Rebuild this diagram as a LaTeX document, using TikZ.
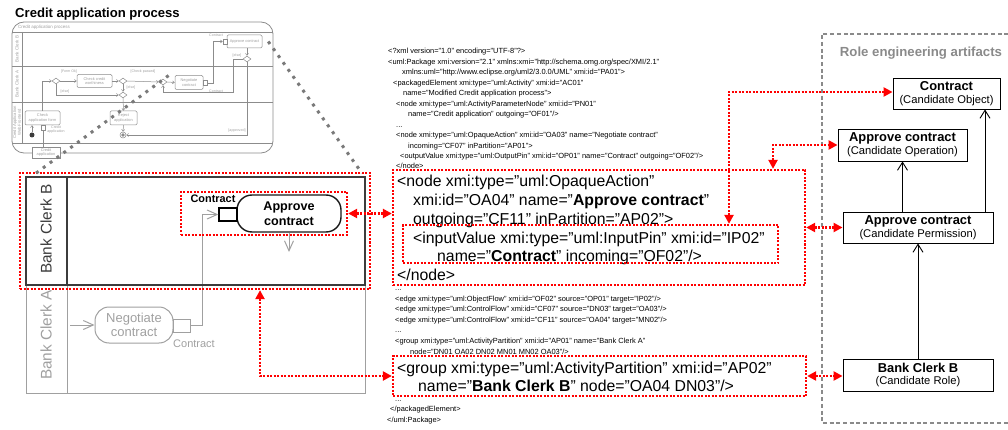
\documentclass[tikz,border=0pt]{standalone}
\usepackage{fontspec}
\setmainfont{Liberation Sans}
\usetikzlibrary{arrows.meta,fit,shapes.geometric,calc}
\definecolor{xred}{HTML}{FF0000}
\definecolor{lanegray}{HTML}{A0A0A0}
\definecolor{thumbline}{HTML}{8C8C8C}
\definecolor{thumbtext}{HTML}{A0A0A0}
\definecolor{dotgray}{HTML}{7A7A7A}
\definecolor{boxgray}{HTML}{8A8A8A}
\definecolor{darkline}{HTML}{3C3C3C}
\newcommand{\xfs}[2]{\fontsize{#1}{#2}\selectfont}
\begin{document}
\begin{tikzpicture}[x=1pt,y=-1pt,
  redbox/.style={draw=xred,line width=2.3pt,dash pattern=on 2pt off 1.5pt,inner sep=0pt},
  redarrow/.style={draw=xred,line width=2.3pt,dash pattern=on 2pt off 1.5pt,{Triangle[length=9pt,width=9pt]}-{Triangle[length=9pt,width=9pt]}},
  graydot/.style={draw=dotgray,line width=3pt,dash pattern=on 3pt off 5.5pt},
  grayarrow/.style={draw=lanegray,line width=1pt,-{Straight Barb[length=10pt,width=9pt]}},
  blackarrow/.style={draw=black,line width=0.9pt,-{Straight Barb[length=8pt,width=10pt]}},
  rbox/.style={draw=black,line width=0.9pt,fill=white,align=center,inner sep=0pt,font=\xfs{11.2}{12.6}},
  smallx/.style={anchor=base west,inner sep=0pt,font=\xfs{7.45}{9}},
  bigx/.style={anchor=base west,inner sep=0pt,font=\xfs{15.8}{18}},
  tbox/.style={draw=thumbline,line width=0.5pt,rounded corners=1.2pt,fill=white,inner sep=0pt,align=center,font=\xfs{3.9}{4.6},text=thumbtext},
  tdia/.style={draw=thumbline,line width=0.5pt,diamond,aspect=1.4,minimum width=8pt,minimum height=6pt,inner sep=0pt,fill=white},
  tpin/.style={draw=thumbline,line width=0.5pt,minimum width=4pt,minimum height=5pt,inner sep=0pt,fill=white},
  ttext/.style={inner sep=0pt,font=\xfs{3.6}{4.2},text=thumbtext,align=center},
  tarr/.style={draw=thumbline,line width=0.5pt,-{Straight Barb[length=2pt,width=3pt]}},
]
\useasboundingbox (0,0) rectangle (1008,430);

% ---------------- thumbnail ----------------
\node[anchor=base west,inner sep=0pt,font=\bfseries\xfs{13.1}{15}] (ttitle) at (15,17.5) {Credit application process};
\node[draw=thumbline,line width=0.8pt,rounded corners=12pt,fit={(12,22) (273,153)},inner sep=0pt] (thumb) {};
\node[ttext,anchor=west,font=\xfs{4.5}{5}] (tname) at (18,27) {Credit application process};
\draw[thumbline,line width=0.5pt] (12,32) -- (273,32) (12,66) -- (273,66) (12,102) -- (273,102) (12,143) -- (273,143) (22,32) -- (22,143);
\node[ttext,rotate=90,font=\xfs{4.5}{5}] (tlB) at (17,49) {Bank Clerk B};
\node[ttext,rotate=90,font=\xfs{4.5}{5}] (tlA) at (17,84) {Bank Clerk A};
\node[ttext,rotate=90,font=\xfs{4.2}{4.6}] (tlW) at (17,122.5) {Credit Application\\Web Frontend};

\node[tbox,minimum width=35pt,minimum height=13pt] (tappr) at (244.5,41.5) {Approve contract};
\node[tpin] (tpin1) at (225,41.5) {};
\node[ttext] (tlc1) at (216,35.5) {Contract};
\node[tdia] (tdB) at (247,59) {};
\node[ttext] (tle1) at (237,55.5) {[else]};
\node[tdia] (tdA1) at (56,81) {};
\node[ttext] (tlf) at (69,72) {[Form Ok]};
\node[tbox,minimum width=35pt,minimum height=13pt] (tcheck) at (94.5,81) {Check credit\\worthiness};
\node[tdia] (tdA2) at (123,81) {};
\node[ttext] (tlcp) at (143,72) {[Check passed]};
\node[ttext] (tle2) at (131,88) {[else]};
\node[tdia] (tdA3) at (163,82) {};
\node[tbox,minimum width=28pt,minimum height=14pt] (tneg) at (189,82.5) {Negotiate\\contract};
\node[tpin] (tpin2) at (205,83) {};
\node[ttext] (tlc2) at (216,91.5) {Contract};
\node[tdia] (tdA4) at (123,95) {};
\node[ttext] (tle3) at (65,92) {[else]};
\node[tbox,minimum width=35pt,minimum height=14pt] (tcaf) at (42.5,118) {Check\\application form};
\node[circle,fill=darkline,minimum size=5pt,inner sep=0pt] (tinit) at (32,135) {};
\node[tpin] (tpin3) at (43,127.5) {};
\node[ttext] (tlca) at (56,129.5) {Credit\\application};
\node[tbox,minimum width=27pt,minimum height=14pt] (trej) at (123.5,118) {Reject\\application};
\node[circle,draw=thumbline,line width=0.5pt,minimum size=6pt,inner sep=0pt] (tfinal) at (123,135) {};
\fill[thumbline] (tfinal) circle (1.8pt);
\node[ttext] (tlap) at (237,130.5) {[approved]};
\node[tbox,rounded corners=0pt,minimum width=28pt,minimum height=11pt] (tparam) at (46,152.5) {Credit\\application};

\draw[tarr] (tinit) -- (tinit |- tcaf.south);
\draw[thumbline,line width=0.5pt] (tparam.north -| tpin3) -- (tpin3.south);
\draw[tarr] (tcaf.north) |- (tdA1.west);
\draw[tarr] (tdA1.east) -- (tcheck.west);
\draw[tarr] (tdA1.south) |- (tdA4.west);
\draw[tarr] (tcheck.east) -- (tdA2.west);
\draw[tarr] (tdA2.east) -- (tdA3.west);
\draw[tarr] (tdA2.south) -- (tdA4.north);
\draw[tarr] (tdA4.south) -- (trej.north);
\draw[tarr] (trej.south) -- (tfinal.north);
\draw[tarr] (tdA3.east) -- (tneg.west);
\draw[tarr] (tpin2.east) -- ++(6,0) |- (tpin1.west);
\draw[tarr] (tdB.north |- tappr.south) -- (tdB.north);
\coordinate (tk) at (233,92);
\draw[tarr] (tdB.west) -| (tk) -| (tdA3.south);
\draw[tarr] (tdB.south) |- (tfinal.east);

% ---------------- Bank Clerk A (grey) ----------------
\node[draw=lanegray,line width=1pt,fit={(26,177) (365,393)},inner sep=0pt] (bca) {};
\draw[lanegray,line width=1pt] (67,177) -- (67,393);
\node[rotate=90,text=lanegray,font=\xfs{15.4}{17}] (lblA) at (46,335) {Bank Clerk A};
\node[draw=lanegray,line width=1pt,rounded corners=14pt,minimum width=78pt,minimum height=36pt,align=center,text=lanegray,font=\xfs{13}{14.5},inner sep=0pt] (neg) at (134,325) {Negotiate\\contract};
\node[draw=lanegray,line width=1pt,minimum width=17pt,minimum height=13pt,inner sep=0pt] (npin) at (181.5,325.5) {};
\node[text=lanegray,font=\xfs{11}{13},inner sep=0pt] (nlbl) at (194,343.5) {Contract};
\coordinate (nin) at (70,325);
\draw[grayarrow] (nin) -- (neg.west);

% ---------------- Bank Clerk B ----------------
\node[draw=black!90,line width=1.4pt,rounded corners=15pt,minimum width=104pt,minimum height=37pt,align=center,font=\bfseries\xfs{12.6}{15},inner sep=0pt] (appr) at (289,213.5) {Approve\\contract};
\node[draw=black,line width=1.4pt,minimum width=18pt,minimum height=13pt,inner sep=0pt,fill=white] (pin) at (228,214.5) {};
\node[font=\bfseries\xfs{10.9}{12},inner sep=0pt] (pinlbl) at (213,199) {Contract};
\draw[grayarrow] (npin.east) -- ++(12,0) |- (pin.west);
\coordinate (apdown) at (289,252);
\draw[grayarrow] (appr.south) -- (apdown);
\node[draw=darkline,line width=1.8pt,fit={(26,177) (365,285)},inner sep=0pt] (bcb) {};
\draw[darkline,line width=1.8pt] (67,177) -- (67,285);
\node[rotate=90,text=darkline,font=\xfs{15.4}{17}] (lblB) at (46,229) {Bank Clerk B};
\node[redbox,fit={(181,192) (347,235)}] (redin) {};
\node[redbox,fit={(20,173) (370,289)}] (redout) {};

% grey dotted zoom lines
\draw[graydot] ([xshift=6pt]tappr.east) -- ([xshift=-4pt,yshift=3pt]bcb.north east);
\draw[graydot] ([xshift=11pt,yshift=3pt]bcb.north west) -- ([xshift=9pt,yshift=9pt]tdA3.center);

% ---------------- XMI text ----------------
\node[smallx] (s1) at (388,54) {<?xml version="1.0" encoding="UTF-8"?>};
\node[smallx] (s2) at (388,64.45) {<uml:Package xmi:version="2.1" xmlns:xmi="http://schema.omg.org/spec/XMI/2.1"};
\node[smallx] (s3) at (402,74.9) {xmlns:uml="http://www.eclipse.org/uml2/3.0.0/UML" xmi:id="PA01">};
\node[smallx] (s4) at (393,85.35) {<packagedElement xmi:type="uml:Activity" xmi:id="AC01"};
\node[smallx] (s5) at (403,95.8) {name="Modified Credit application process">};
\node[smallx] (s6) at (396,106.25) {<node xmi:type="uml:ActivityParameterNode" xmi:id="PN01"};
\node[smallx] (s7) at (408,116.7) {name="Credit application" outgoing="OF01"/>};
\node[smallx] (s8) at (396,127.15) {...};
\node[smallx] (s9) at (396,137.6) {<node xmi:type="uml:OpaqueAction" xmi:id="OA03" name="Negotiate contract"};
\node[smallx] (s10) at (408,148.05) {incoming="CF07" inPartition="AP01">};
\node[smallx] (s11) at (400,158.5) {<outputValue xmi:type="uml:OutputPin" xmi:id="OP01" name="Contract" outgoing="OF02"/>};
\node[smallx] (s12) at (396,168.95) {</node>};

\node[bigx] (b1) at (397,187) {<node xmi:type="uml:OpaqueAction"};
\node[bigx] (b2) at (413,205.7) {xmi:id="OA04" name="\textbf{Approve contract}"};
\node[bigx] (b3) at (413,224.4) {outgoing="CF11" inPartition="AP02">};
\node[bigx] (b4) at (413,243.1) {<inputValue xmi:type="uml:InputPin" xmi:id="IP02"};
\node[bigx] (b5) at (437,261.8) {name="\textbf{Contract}" incoming="OF02"/>};
\node[bigx] (b6) at (397,280.5) {</node>};
\node[redbox,fit={(393,170) (805,285)}] (xnode) {};
\node[redbox,fit={(403,225) (778,263)}] (xin) {};

\node[smallx] (e1) at (395,290.5) {...};
\node[smallx] (e2) at (395,301.1) {<edge xmi:type="uml:ObjectFlow" xmi:id="OF02" source="OP01" target="IP02"/>};
\node[smallx] (e3) at (395,311.7) {<edge xmi:type="uml:ControlFlow" xmi:id="CF07" source="DN03" target="OA03"/>};
\node[smallx] (e4) at (395,322.3) {<edge xmi:type="uml:ControlFlow" xmi:id="CF11" source="OA04" target="MN02"/>};
\node[smallx] (e5) at (395,332.9) {...};
\node[smallx] (e6) at (395,343.5) {<group xmi:type="uml:ActivityPartition" xmi:id="AP01" name="Bank Clerk A"};
\node[smallx] (e7) at (410,354.1) {node="DN01 OA02 DN02 MN01 MN02 OA03"/>};

\node[bigx] (g1) at (397,373) {<group xmi:type="uml:ActivityPartition" xmi:id="AP02"};
\node[bigx] (g2) at (418,391.5) {name="\textbf{Bank Clerk B}" node="OA04 DN03"/>};
\node[redbox,fit={(393,356) (806,396)}] (xgroup) {};

\node[smallx] (f1) at (395,401.5) {...};
\node[smallx] (f2) at (390,411.8) {</packagedElement>};
\node[smallx] (f3) at (387,422.2) {</uml:Package>};

% ---------------- Role engineering artifacts ----------------
\draw[draw=boxgray,line width=1.5pt,dash pattern=on 4pt off 2.7pt] (1015,34) -- (822,34) -- (822,423) -- (1015,423);
\node[text=boxgray,font=\bfseries\xfs{13.2}{15}] (rtitle) at (921,53) {Role engineering artifacts};
\node[rbox,minimum width=107pt,minimum height=31pt] (rcontract) at (946.5,93.5) {{\bfseries\xfs{12.9}{12.6}Contract}\\(Candidate Object)};
\node[rbox,minimum width=129pt,minimum height=32pt] (roper) at (902.5,145) {{\bfseries\xfs{12.9}{12.6}Approve contract}\\(Candidate Operation)};
\node[rbox,minimum width=150pt,minimum height=31pt] (rperm) at (918,227.5) {{\bfseries\xfs{12.9}{12.6}Approve contract}\\(Candidate Permission)};
\node[rbox,minimum width=150pt,minimum height=32pt] (rrole) at (918,375) {{\bfseries\xfs{12.9}{12.6}Bank Clerk B}\\(Candidate Role)};

\draw[blackarrow] (rrole.north) -- (rperm.south);
\draw[blackarrow] (rperm.north -| roper) -- (roper.south);
\draw[blackarrow] ([xshift=67pt]rperm.north) -- ([xshift=67pt]rperm.north |- rcontract.south);

% ---------------- red trace arrows ----------------
\draw[redarrow] (redin.east) -- (xnode.west |- redin.east);
\coordinate (fturn) at (260,376);
\draw[redarrow] (redout.south -| fturn) -- (fturn) -- (xgroup.west |- fturn);
\coordinate (aturn) at (729,92);
\draw[redarrow] (xin.north -| aturn) -- (aturn) -- (rcontract.west |- aturn);
\coordinate (bturn) at (773,145);
\draw[redarrow] (xnode.north -| bturn) -- (bturn) -- (roper.west |- bturn);
\draw[redarrow] (xnode.east |- rperm.west) -- (rperm.west);
\draw[redarrow] (xgroup.east) -- (rrole.west |- xgroup.east);
\end{tikzpicture}
\end{document}
